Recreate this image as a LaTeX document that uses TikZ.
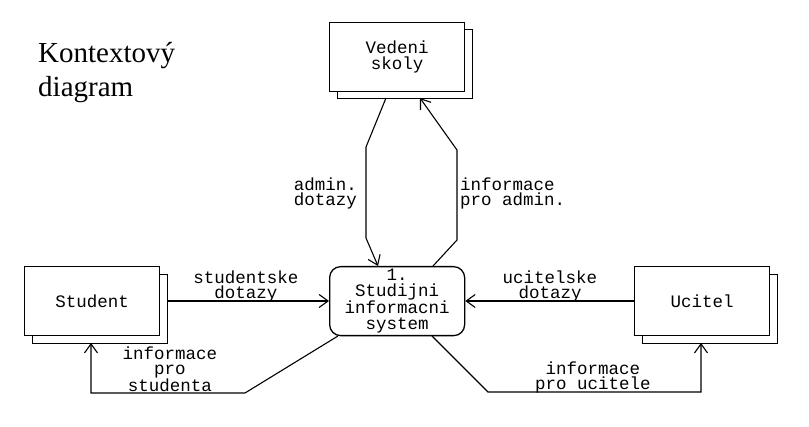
\documentclass[tikz,border=0pt]{standalone}
\usepackage{fontspec}
\setmainfont{Liberation Serif}
\newfontfamily\pixfont{Liberation Mono}
\usetikzlibrary{arrows.meta}
\begin{document}
\begin{tikzpicture}[x=1pt,y=-1pt,
  ent/.style={draw,line width=1.3pt,fill=white,minimum width=135pt,minimum height=69pt,inner sep=0pt,anchor=north west},
  shad/.style={draw,line width=1.3pt,fill=white,minimum width=135pt,minimum height=69pt,inner sep=0pt,anchor=north west},
  proc/.style={draw,line width=1.3pt,rounded corners=11pt,fill=white,minimum width=135pt,minimum height=69pt,inner sep=0pt,anchor=north west},
  pix/.style={font=\pixfont\fontsize{17.5}{16}\selectfont,align=center,inner sep=0pt},
  lab/.style={font=\pixfont\fontsize{17.5}{15}\selectfont,inner sep=0pt},
  flow/.style={line width=1.1pt,-{Straight Barb[length=9pt,width=13pt,line width=1.1pt]}},
  line/.style={line width=1.1pt}]
\useasboundingbox (0,0) rectangle (809,427);
% title
\node[anchor=base west,inner sep=0pt,font=\fontsize{29}{31}\selectfont] (t1) at (38,63) {Kontextový};
\node[anchor=base west,inner sep=0pt,font=\fontsize{29}{31}\selectfont] (t2) at (38,97) {diagram};
% Vedeni skoly
\node[shad] (vs) at (337,29) {};
\node[ent,pix] (v) at (329,22) {Vedeni\\skoly};
% Student
\node[shad] (ss) at (32,274) {};
\node[ent,pix] (s) at (24,266) {Student};
% Ucitel
\node[shad] (us) at (642,274) {};
\node[ent,pix] (u) at (634,266) {Ucitel};
% Process
\node[proc,pix] (p) at (329,266) {1.\\Studijni\\informacni\\system};
% coordinates
\coordinate (a1) at (386,98);
\coordinate (a2) at (366,147);
\coordinate (a3) at (366,238);
\coordinate (a4) at (378,266);
\coordinate (b1) at (433,266);
\coordinate (b2) at (457,240);
\coordinate (b3) at (457,150);
\coordinate (b4) at (420,98);
\coordinate (c1) at (338,336);
\coordinate (c2) at (245,393);
\coordinate (c3) at (91,393);
\coordinate (c4) at (91,343);
\coordinate (d1) at (432,336);
\coordinate (d2) at (488,392);
\coordinate (d3) at (701,392);
\coordinate (d4) at (701,343);
% flows
\draw[flow] (ss.east |- 0,301) -- (p.west |- 0,301);
\draw[flow] (u.west |- 0,301) -- (p.east |- 0,301);
\draw[flow] (a1) -- (a2) -- (a3) -- (a4);
\draw[flow] (b1) -- (b2) -- (b3) -- (b4);
\draw[flow] (c1) -- (c2) -- (c3) -- (c4);
\draw[flow] (d1) -- (d2) -- (d3) -- (d4);
% labels
\node[lab,align=center] (l1) at (246,286) {studentske\\dotazy};
\node[lab,align=center] (l2) at (550,286) {ucitelske\\dotazy};
\node[lab,align=right,anchor=east] (l3) at (357,193) {admin.\\dotazy};
\node[lab,align=left,anchor=west] (l4) at (460,193) {informace\\pro admin.};
\node[lab,align=center] (l5) at (170,369) {informace\\pro\\studenta};
\node[lab,align=center] (l6) at (593,377) {informace\\pro ucitele};
\end{tikzpicture}
\end{document}
